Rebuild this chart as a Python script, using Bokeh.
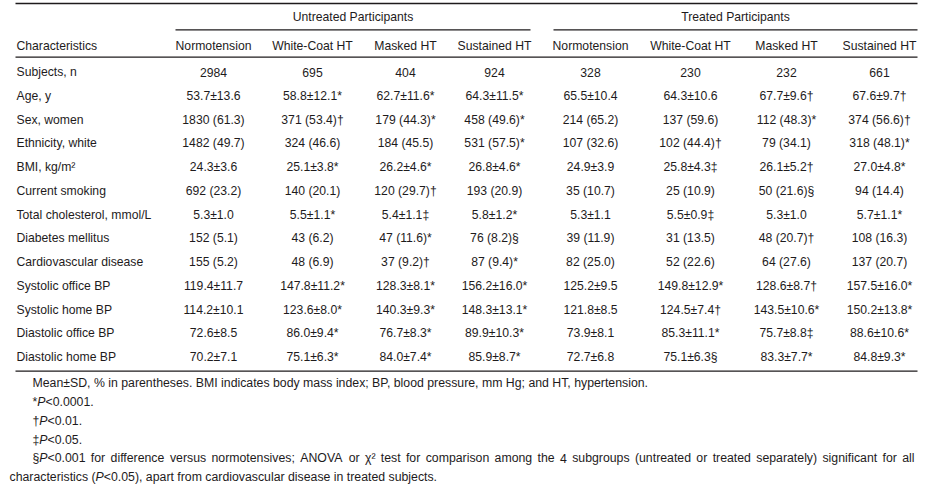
from bokeh.plotting import figure
from bokeh.models import Range1d, ColumnDataSource
from bokeh.core.properties import value
from bokeh.embed import file_html
from bokeh.resources import INLINE

# ---------------- data ----------------
groups = ["Untreated Participants", "Treated Participants"]
subgroups = ["Normotension", "White-Coat HT", "Masked HT", "Sustained HT"]
stub_header = "Characteristics"
characteristics = [
    "Subjects, n", "Age, y", "Sex, women", "Ethnicity, white", "BMI, kg/m²",
    "Current smoking", "Total cholesterol, mmol/L", "Diabetes mellitus",
    "Cardiovascular disease", "Systolic office BP", "Systolic home BP",
    "Diastolic office BP", "Diastolic home BP",
]
untreated_normotension = ["2984", "53.7±13.6", "1830 (61.3)", "1482 (49.7)", "24.3±3.6", "692 (23.2)",
                          "5.3±1.0", "152 (5.1)", "155 (5.2)", "119.4±11.7", "114.2±10.1", "72.6±8.5", "70.2±7.1"]
untreated_whitecoat = ["695", "58.8±12.1*", "371 (53.4)†", "324 (46.6)", "25.1±3.8*", "140 (20.1)",
                       "5.5±1.1*", "43 (6.2)", "48 (6.9)", "147.8±11.2*", "123.6±8.0*", "86.0±9.4*", "75.1±6.3*"]
untreated_masked = ["404", "62.7±11.6*", "179 (44.3)*", "184 (45.5)", "26.2±4.6*", "120 (29.7)†",
                    "5.4±1.1‡", "47 (11.6)*", "37 (9.2)†", "128.3±8.1*", "140.3±9.3*", "76.7±8.3*", "84.0±7.4*"]
untreated_sustained = ["924", "64.3±11.5*", "458 (49.6)*", "531 (57.5)*", "26.8±4.6*", "193 (20.9)",
                       "5.8±1.2*", "76 (8.2)§", "87 (9.4)*", "156.2±16.0*", "148.3±13.1*", "89.9±10.3*", "85.9±8.7*"]
treated_normotension = ["328", "65.5±10.4", "214 (65.2)", "107 (32.6)", "24.9±3.9", "35 (10.7)",
                        "5.3±1.1", "39 (11.9)", "82 (25.0)", "125.2±9.5", "121.8±8.5", "73.9±8.1", "72.7±6.8"]
treated_whitecoat = ["230", "64.3±10.6", "137 (59.6)", "102 (44.4)†", "25.8±4.3‡", "25 (10.9)",
                     "5.5±0.9‡", "31 (13.5)", "52 (22.6)", "149.8±12.9*", "124.5±7.4†", "85.3±11.1*", "75.1±6.3§"]
treated_masked = ["232", "67.7±9.6†", "112 (48.3)*", "79 (34.1)", "26.1±5.2†", "50 (21.6)§",
                  "5.3±1.0", "48 (20.7)†", "64 (27.6)", "128.6±8.7†", "143.5±10.6*", "75.7±8.8‡", "83.3±7.7*"]
treated_sustained = ["661", "67.6±9.7†", "374 (56.6)†", "318 (48.1)*", "27.0±4.8*", "94 (14.4)",
                     "5.7±1.1*", "108 (16.3)", "137 (20.7)", "157.5±16.0*", "150.2±13.8*", "88.6±10.6*", "84.8±9.3*"]
columns = [untreated_normotension, untreated_whitecoat, untreated_masked, untreated_sustained,
           treated_normotension, treated_whitecoat, treated_masked, treated_sustained]

note_main = "Mean±SD, % in parentheses. BMI indicates body mass index; BP, blood pressure, mm Hg; and HT, hypertension."
note_marks = [("*", "<0.0001."), ("†", "<0.01."), ("‡", "<0.05.")]
note_last_first = ("§", "<0.001")
note_last_rest = ("for difference versus normotensives; ANOVA or χ² test for comparison among the 4 "
                  "subgroups (untreated or treated separately) significant for all")
note_cont = ("characteristics (", "<0.05), apart from cardiovascular disease in treated subjects.")

# ---------------- layout / style ----------------
FONT = "Liberation Sans, Arial, sans-serif"
SIZE = 12.2
NSIZE = 12.3
INK = "#1e1b1c"
W, H = 944, 488
label_x = 16
col_x = [213, 312, 405, 494, 590, 690, 786, 879]
group_span = [(175, 530), (553, 917)]
table_left, table_right = 15, 917
y_top_rule, y_group, y_group_rule, y_head, y_head_rule = 3, 16.7, 29.3, 45, 56.7
row0, pitch = 71.7, 23.75
y_bottom_rule = row0 + pitch * (len(characteristics) - 1) + 14
note_x, note_x2, note_right = 32, 9, 914
note_y0, note_pitch = 382.3, 18.9

# approximate Arial advance widths (per 1000 em), for justified footnote text
AW = {' ': 278, '!': 278, '%': 889, '(': 333, ')': 333, '*': 389, ',': 278, '-': 333, '.': 278,
      '/': 278, ';': 278, ':': 278, '<': 584, '±': 584, '§': 556, '†': 556, '‡': 556, 'χ': 520, '²': 333}
for d in "0123456789":
    AW[d] = 556
AW.update(dict(A=667, B=667, C=722, D=722, E=667, F=611, G=778, H=722, I=278, J=500, K=667, L=556,
               M=833, N=722, O=778, P=667, Q=778, R=722, S=667, T=611, U=722, V=667, W=944, X=667,
               Y=667, Z=611))
AW.update(dict(a=556, b=556, c=500, d=556, e=556, f=278, g=556, h=556, i=222, j=222, k=500, l=222,
               m=833, n=556, o=556, p=556, q=556, r=333, s=500, t=278, u=556, v=500, w=722, x=500,
               y=500, z=500))


def tw(s, size=NSIZE):
    return sum(AW.get(c, 556) for c in s) * size / 1000.0


p = figure(width=W, height=H, x_range=Range1d(0, W), y_range=Range1d(H, 0),
           output_backend="svg", toolbar_location=None, min_border=0,
           x_axis_location=None, y_axis_location=None)
p.outline_line_color = None
p.xgrid.visible = False
p.ygrid.visible = False
p.background_fill_color = "white"
p.border_fill_color = "white"

# rules
rx0 = [table_left, table_left, table_left] + [a for a, b in group_span]
rx1 = [table_right, table_right, table_right] + [b for a, b in group_span]
ry = [y_top_rule, y_head_rule, y_bottom_rule, y_group_rule, y_group_rule]
p.segment(x0=rx0, x1=rx1, y0=ry, y1=ry, line_color=INK, line_width=1.3)

common = dict(text_font=value(FONT), text_font_size=f"{SIZE}px", text_color=INK, text_baseline="middle")

# group headers
p.text(x=[(a + b) / 2 for a, b in group_span], y=[y_group] * 2, text=groups, text_align="center", **common)
# column headers
p.text(x=[label_x], y=[y_head], text=[stub_header], text_align="left", **common)
p.text(x=col_x, y=[y_head] * 8, text=subgroups * 2, text_align="center", **common)
# row labels
rows_y = [row0 + i * pitch for i in range(len(characteristics))]
p.text(x=[label_x] * len(characteristics), y=rows_y, text=characteristics, text_align="left", **common)
# cells
cx, cy, ct = [], [], []
for ci, col in enumerate(columns):
    for ri, v in enumerate(col):
        cx.append(col_x[ci]); cy.append(rows_y[ri]); ct.append(v)
p.text(x=cx, y=cy, text=ct, text_align="center", **common)

# footnotes
fx, fy, ft, fs = [], [], [], []


def put(x, y, segs):
    for s, it in segs:
        fx.append(x); fy.append(y); ft.append(s); fs.append("italic" if it else "normal")
        x += tw(s)
    return x


put(note_x, note_y0, [(note_main, False)])
for i, (mark, rest) in enumerate(note_marks):
    put(note_x, note_y0 + note_pitch * (i + 1), [(mark, False), ("P", True), (rest, False)])

yj = note_y0 + note_pitch * 4
first = [(note_last_first[0], False), ("P", True), (note_last_first[1], False)]
words = note_last_rest.split(" ")
first_w = sum(tw(s) for s, _ in first)
total = first_w + sum(tw(w) for w in words)
gap = (note_right - note_x - total) / len(words)
x = put(note_x, yj, first)
for w in words:
    x += gap
    x = put(x, yj, [(w, False)])

put(note_x2, note_y0 + note_pitch * 5, [(note_cont[0], False), ("P", True), (note_cont[1], False)])

src = ColumnDataSource(dict(x=fx, y=fy, text=ft, style=fs))
p.text(x="x", y="y", text="text", source=src, text_align="left", text_font_style="style",
       text_font=value(FONT), text_font_size=f"{NSIZE}px", text_color=INK, text_baseline="middle")

open("out.html", "w").write(file_html(p, INLINE))
